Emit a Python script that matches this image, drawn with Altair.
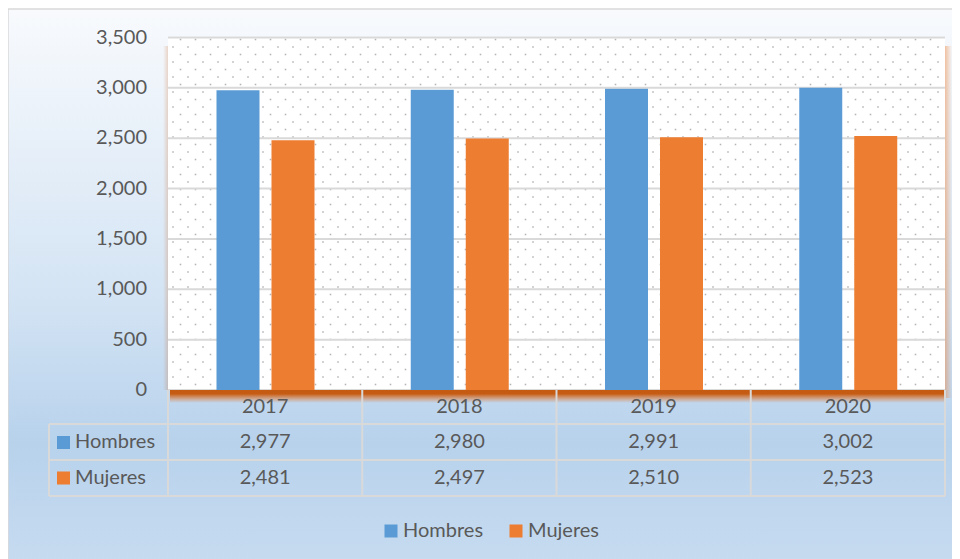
import altair as alt
import pandas as pd

# ---- data ----
years = ["2017", "2018", "2019", "2020"]
series = ["Hombres", "Mujeres"]
hombres = [2977, 2980, 2991, 3002]
mujeres = [2481, 2497, 2510, 2523]
y_ticks = [0, 500, 1000, 1500, 2000, 2500, 3000, 3500]
colors = ["#5b9bd5", "#ed7d31"]

# ---- style / layout ----
W, H = 944, 551
FONT = "Lato"
FS = 20
TXT = "#595959"
GRID = "#d9d9d9"
X0, X1 = 160, 937          # plot area left/right (view px)
YB, YT = 382, 29.5         # value 0 / value 3500 (view px)
ROW_Y = [434, 469.5]       # table rows for series
YEAR_Y = 399
TBL_LINES = [416, 452, 488]
TBL_LEFT = 41

rows = []
for i, yr in enumerate(years):
    rows.append({"year": yr, "series": "Hombres", "value": hombres[i]})
    rows.append({"year": yr, "series": "Mujeres", "value": mujeres[i]})
df = pd.DataFrame(rows)
ydf = pd.DataFrame({"year": years})
tdf = pd.DataFrame({"t": y_ticks})
one = alt.Data(values=[{"a": 1}])

x_scale = alt.Scale(domain=years, range=[X0, X1], paddingInner=0, paddingOuter=0)
y_scale = alt.Scale(domain=[0, 3500], range=[YB, YT], nice=False, zero=False)
X = alt.X("year:N", scale=x_scale, axis=None)


def vgrad(stops, horizontal=False):
    return {"gradient": "linear", "x1": 0, "y1": 0,
            "x2": 1 if horizontal else 0, "y2": 0 if horizontal else 1,
            "stops": [{"offset": o, "color": c} for o, c in stops]}


layers = []

# chart background with gradient
layers.append(
    alt.Chart(one).mark_rect(
        fill=vgrad([(0, "#f8fafd"), (0.5, "#d4e4f4"), (0.76, "#b8d2ec"), (1, "#c8dcf0")]),
        stroke="#d9d9d9", strokeWidth=1.5,
    ).encode(x=alt.value(0), x2=alt.value(W + 20), y=alt.value(1), y2=alt.value(H + 20))
)

# left shadow of plot area
layers.append(
    alt.Chart(one).mark_rect(
        fill=vgrad([(0, "rgba(197,90,17,0)"), (1, "rgba(197,90,17,0.22)")], horizontal=True)
    ).encode(x=alt.value(X0 - 5), x2=alt.value(X0), y=alt.value(38), y2=alt.value(YB))
)
# right shadow
layers.append(
    alt.Chart(one).mark_rect(
        fill=vgrad([(0, "rgba(237,125,49,0.45)"), (1, "rgba(237,125,49,0)")], horizontal=True)
    ).encode(x=alt.value(X1), x2=alt.value(X1 + 7), y=alt.value(38), y2=alt.value(YB + 8))
)

# plot area
layers.append(
    alt.Chart(one).mark_rect(fill="white").encode(
        x=alt.value(X0), x2=alt.value(X1), y=alt.value(YT - 1), y2=alt.value(YB)
    )
)

# dotted texture of plot area
pts = []
r = 0
yy = YT + 2
while yy < YB - 1:
    off = 7.5 if r % 2 == 0 else 0
    xx = X0 + 5 + off
    while xx < X1 - 2:
        pts.append({"px": xx, "py": yy})
        xx += 15
    yy += 7.5
    r += 1
layers.append(
    alt.Chart(pd.DataFrame(pts)).mark_square(size=2.5, color="#b5b5b5", opacity=1).encode(
        x=alt.X("px:Q", scale=alt.Scale(domain=[0, W], range=[0, W]), axis=None),
        y=alt.Y("py:Q", scale=alt.Scale(domain=[0, H], range=[0, H]), axis=None),
    )
)

# gridlines
layers.append(
    alt.Chart(tdf).mark_rule(color=GRID, strokeWidth=2).encode(
        y=alt.Y("t:Q", scale=y_scale, axis=None), x=alt.value(X0), x2=alt.value(X1)
    )
)

# y tick labels
layers.append(
    alt.Chart(tdf).mark_text(align="right", baseline="middle", font=FONT, fontSize=FS, color=TXT).encode(
        y=alt.Y("t:Q", scale=y_scale, axis=None), x=alt.value(139), text=alt.Text("t:Q", format=",")
    )
)

# bars
layers.append(
    alt.Chart(df).mark_bar().encode(
        x=X,
        xOffset=alt.XOffset("series:N", scale=alt.Scale(domain=series, range=[48.5, 146.5],
                                                        paddingInner=12 / 55, paddingOuter=0)),
        y=alt.Y("value:Q", scale=y_scale, axis=None),
        color=alt.Color(
            "series:N",
            scale=alt.Scale(domain=series, range=colors),
            legend=alt.Legend(
                orient="none", legendX=373, legendY=513, direction="horizontal", title=None,
                symbolType="square", symbolSize=169, symbolStrokeWidth=0, symbolOpacity=1,
                labelFont=FONT, labelFontSize=FS, labelColor=TXT, labelOffset=2,
                columnPadding=22, padding=0,
            ),
        ),
    )
)

# orange axis band under plot
layers.append(
    alt.Chart(one).mark_rect(
        fill=vgrad([(0, "#c55a11"), (0.3, "#c65c14"), (1, "rgba(237,125,49,0)")])
    ).encode(x=alt.value(X0 + 2), x2=alt.value(X1), y=alt.value(YB), y2=alt.value(YB + 13))
)

# table: vertical lines at band edges
layers.append(
    alt.Chart(ydf).mark_rule(color=GRID, strokeWidth=2).encode(
        x=alt.X("year:N", scale=x_scale, axis=None, bandPosition=0),
        y=alt.value(YB), y2=alt.value(TBL_LINES[-1]),
    )
)
layers.append(
    alt.Chart(ydf).transform_filter(alt.datum.year == years[-1]).mark_rule(color=GRID, strokeWidth=2).encode(
        x=alt.X("year:N", scale=x_scale, axis=None, bandPosition=1),
        y=alt.value(YB), y2=alt.value(TBL_LINES[-1]),
    )
)
layers.append(
    alt.Chart(one).mark_rule(color=GRID, strokeWidth=2).encode(
        x=alt.value(TBL_LEFT), y=alt.value(TBL_LINES[0]), y2=alt.value(TBL_LINES[-1])
    )
)
for ly in TBL_LINES:
    layers.append(
        alt.Chart(one).mark_rule(color=GRID, strokeWidth=2).encode(
            x=alt.value(TBL_LEFT), x2=alt.value(X1), y=alt.value(ly)
        )
    )

# table: years row
layers.append(
    alt.Chart(ydf).mark_text(align="center", baseline="middle", font=FONT, fontSize=FS, color=TXT).encode(
        x=X, y=alt.value(YEAR_Y), text="year:N"
    )
)

# table: values rows + row legend keys
for i, s in enumerate(series):
    sub = df[df.series == s]
    layers.append(
        alt.Chart(sub).mark_text(align="center", baseline="middle", font=FONT, fontSize=FS, color=TXT).encode(
            x=X, y=alt.value(ROW_Y[i]), text=alt.Text("value:Q", format=",")
        )
    )
    layers.append(
        alt.Chart(pd.DataFrame({"series": [s]})).mark_square(size=169, opacity=1, color=colors[i]).encode(
            x=alt.value(55.5), y=alt.value(ROW_Y[i] + 0.5)
        )
    )
    layers.append(
        alt.Chart(pd.DataFrame({"series": [s]})).mark_text(align="left", baseline="middle", font=FONT,
                                                          fontSize=FS, color=TXT).encode(
            x=alt.value(67), y=alt.value(ROW_Y[i]), text="series:N"
        )
    )

chart = (
    alt.layer(*layers)
    .resolve_scale(x="independent", y="independent")
    .properties(width=W, height=H, autosize=alt.AutoSizeParams(type="none"), padding=0)
    .configure_view(stroke="transparent")
)

chart.save("out.html", embed_options={"renderer": "svg", "actions": False})
